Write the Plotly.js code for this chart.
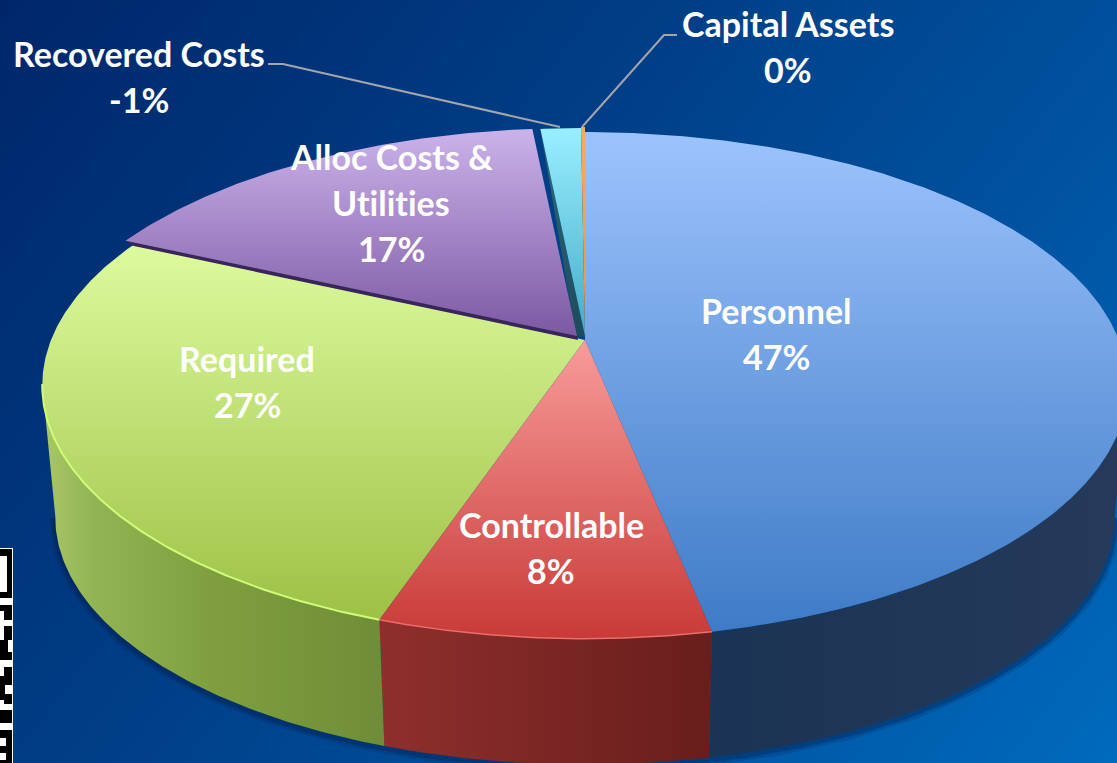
<!DOCTYPE html>
<html><head><meta charset="utf-8">
<script src="https://cdn.plot.ly/plotly-3.0.1.min.js"></script>
<style>
html,body{margin:0;padding:0;width:1117px;height:763px;overflow:hidden;
background:linear-gradient(128deg,#00266a 0%,#003d85 38%,#004f9c 65%,#006abc 100%);}
#chart{width:1117px;height:763px;}
text{font-variant-ligatures:none;font-feature-settings:"liga" 0,"clig" 0;letter-spacing:0.01px;}
</style></head><body><div id="chart"></div>
<script>
// ---- data ----
const categories = ['Personnel','Controllable','Required','Alloc Costs &<br>Utilities','Recovered Costs','Capital Assets'];
const shares = [46.86, 8.32, 26.68, 16.57, -1.43, 0.14];

// ---- presentation ----
const labelAnchors = [[776,310],[551,524],[247,358],[391,156],[139,53],[788,23]];
const faceColors = [['#9dc3fd','#3e7bc6'],['#f89c9a','#c83a37'],['#dcfb9e','#9dc145'],['#cbb3ea','#7c58a3'],['#9aefff','#42abc9'],['#f7ab60','#e89840']];
const offsets = [[0,0],[0,0],[0,0],[-8,-4],[0,-4],[0,-5]];
const wallStops = [
  [[0,'#1b3354'],[1,'#263a5b']],
  [[0,'#8f2f2c'],[1,'#681e1c']],
  [[0,'#a9c868'],[0.15,'#93b452'],[0.5,'#7f9f3f'],[1,'#6f8d37']]
];
const CX=585, CY=340, R=534, RB=245.2, A=0.179, S=0.976, DROP=133;

const rad=d=>d*Math.PI/180;
const top3=(t)=>{const c=Math.cos(rad(t)),s=Math.sin(rad(t)),d=1+A*c;return [R*s/d,-RB*c/d];};
const upper=t=>{const p=top3(t);return [CX+p[0],CY+p[1]];};
const lower=t=>{const p=top3(t);return [CX+p[0]*S,CY+DROP+p[1]*S];};
const arc=(a,b,fn,off)=>{const n=Math.max(2,Math.ceil(Math.abs(b-a)*2)),o=[];
  for(let i=0;i<=n;i++){const q=fn(a+(b-a)*i/n);o.push(off?[q[0]+off[0],q[1]+off[1]]:q);}return o;};

const total=shares.reduce((s,v)=>s+Math.abs(v),0);
let run=0;
const spans=shares.map(v=>{const a=run/total*360;run+=Math.abs(v);return [a,run/total*360];});

const poly=(pts,extra)=>Object.assign({type:'scatter',mode:'lines',x:pts.map(p=>p[0]),y:pts.map(p=>p[1]),
  fill:'toself',line:{width:0},hoverinfo:'skip',showlegend:false},extra);
const stroke=(pts,color,width)=>({type:'scatter',mode:'lines',x:pts.map(p=>p[0]),y:pts.map(p=>p[1]),
  line:{color,width},hoverinfo:'skip',showlegend:false});
const gradV=(c,y0,y1)=>({fillgradient:{type:'vertical',start:y0,stop:y1,colorscale:[[0,c[0]],[1,c[1]]]}});
const gradH=(st,x0,x1)=>({fillgradient:{type:'horizontal',start:x0,stop:x1,colorscale:st}});

const traces=[];
const RIGHT=100, LEFT=260; // silhouette angles of the disc

// soft shadow under the disc
const sh=arc(RIGHT,LEFT,lower,[0,2]);
traces.push(stroke(sh,'rgba(0,25,70,0.18)',12));
traces.push(stroke(sh,'rgba(0,25,70,0.30)',6));

// walls
[[RIGHT,spans[0][1],0],[spans[1][0],spans[1][1],1],[spans[2][0],LEFT,2]].forEach(w=>{
  const pts=arc(w[0],w[1],upper).concat(arc(w[1],w[0],lower));
  const xs=pts.map(p=>p[0]);
  traces.push(poly(pts.concat([pts[0]]),gradH(wallStops[w[2]],Math.min(...xs),Math.max(...xs))));
});

// inner wall of the pulled-out recovered slice
const recTop=arc(spans[4][0],spans[4][0],upper,offsets[4])[0];
const recApex=[CX+offsets[4][0],CY+offsets[4][1]];
traces.push(poly([recTop,[recApex[0]-9,recApex[1]+1],recApex,recTop],gradV(['#2f6a78','#1d4b5c'],128,336)));

// top faces
const face=i=>{
  const off=offsets[i],sp=spans[i];
  const pts=[[CX+off[0],CY+off[1]]].concat(arc(sp[0],sp[1],upper,off));
  pts.push(pts[0]);
  const ys=pts.map(p=>p[1]);
  return poly(pts,gradV(faceColors[i],Math.min(...ys),Math.max(...ys)));
};
[4,5,0,2,1].forEach(i=>traces.push(face(i)));

// alloc slice: inner wall, then its face, over the neighbouring slice
const apexAlloc=[CX+offsets[3][0],CY+offsets[3][1]];
const startAlloc=arc(spans[3][0],spans[3][0],upper,offsets[3])[0];
traces.push(poly([startAlloc,apexAlloc,[apexAlloc[0]+1,apexAlloc[1]+4],[startAlloc[0]+7,startAlloc[1]+5],startAlloc],{fillcolor:'#3b2457'}));
traces.push(face(3));

// bright front rims
traces.push(stroke(arc(spans[2][0],LEFT,upper),'#d2fb78',2));
traces.push(stroke(arc(spans[1][0],spans[1][1],upper),'#ec6d6b',1.5));

// leader lines
traces.push(stroke([[268,64],[283,64],[560,127]],'#a3a6aa',2));
traces.push(stroke([[677,35],[664,35],[582,127]],'#a3a6aa',2));

// labels
const annotations=[];
const LINE=46;
categories.forEach((c,i)=>{
  const lines=c.split('<br>').concat([Math.round(shares[i])+'%']);
  lines.forEach((t,j)=>annotations.push({x:labelAnchors[i][0],y:labelAnchors[i][1]+j*LINE,xref:'x',yref:'y',
    text:t,showarrow:false,xanchor:'center',yanchor:'middle',
    font:{family:'Lato, Carlito, sans-serif',size:34,color:'#ffffff',weight:700}}));
});

// cropped printed code at the lower-left edge
const codeBlocks=[[0,12,549,556],[7,12,556,592],[0,12,592,598],[0,12,605,611],[4,12,611,620],[4,12,626,640],[0,8,640,652],[0,12,652,660],
  [4,12,667,676],[0,12,676,685],[0,5,685,700],[4,12,694,704],[0,12,710,723],[0,12,730,738],[6,12,738,746],[0,12,746,753],[6,12,753,760],[0,12,760,763]];
const shapes=[{type:'rect',xref:'x',yref:'y',x0:0,x1:13,y0:548,y1:763,fillcolor:'#ffffff',line:{width:0},layer:'above'}]
 .concat(codeBlocks.map(b=>({type:'rect',xref:'x',yref:'y',x0:b[0],x1:b[1],y0:b[2],y1:b[3],fillcolor:'#000000',line:{width:0},layer:'above'})));

const layout={width:1117,height:763,margin:{l:0,r:0,t:0,b:0,pad:0},
  paper_bgcolor:'rgba(0,0,0,0)',plot_bgcolor:'rgba(0,0,0,0)',showlegend:false,
  xaxis:{range:[0,1117],visible:false,fixedrange:true},
  yaxis:{range:[763,0],visible:false,fixedrange:true},
  annotations,shapes};
Plotly.newPlot('chart',traces,layout,{displayModeBar:false,staticPlot:true});
</script></body></html>
